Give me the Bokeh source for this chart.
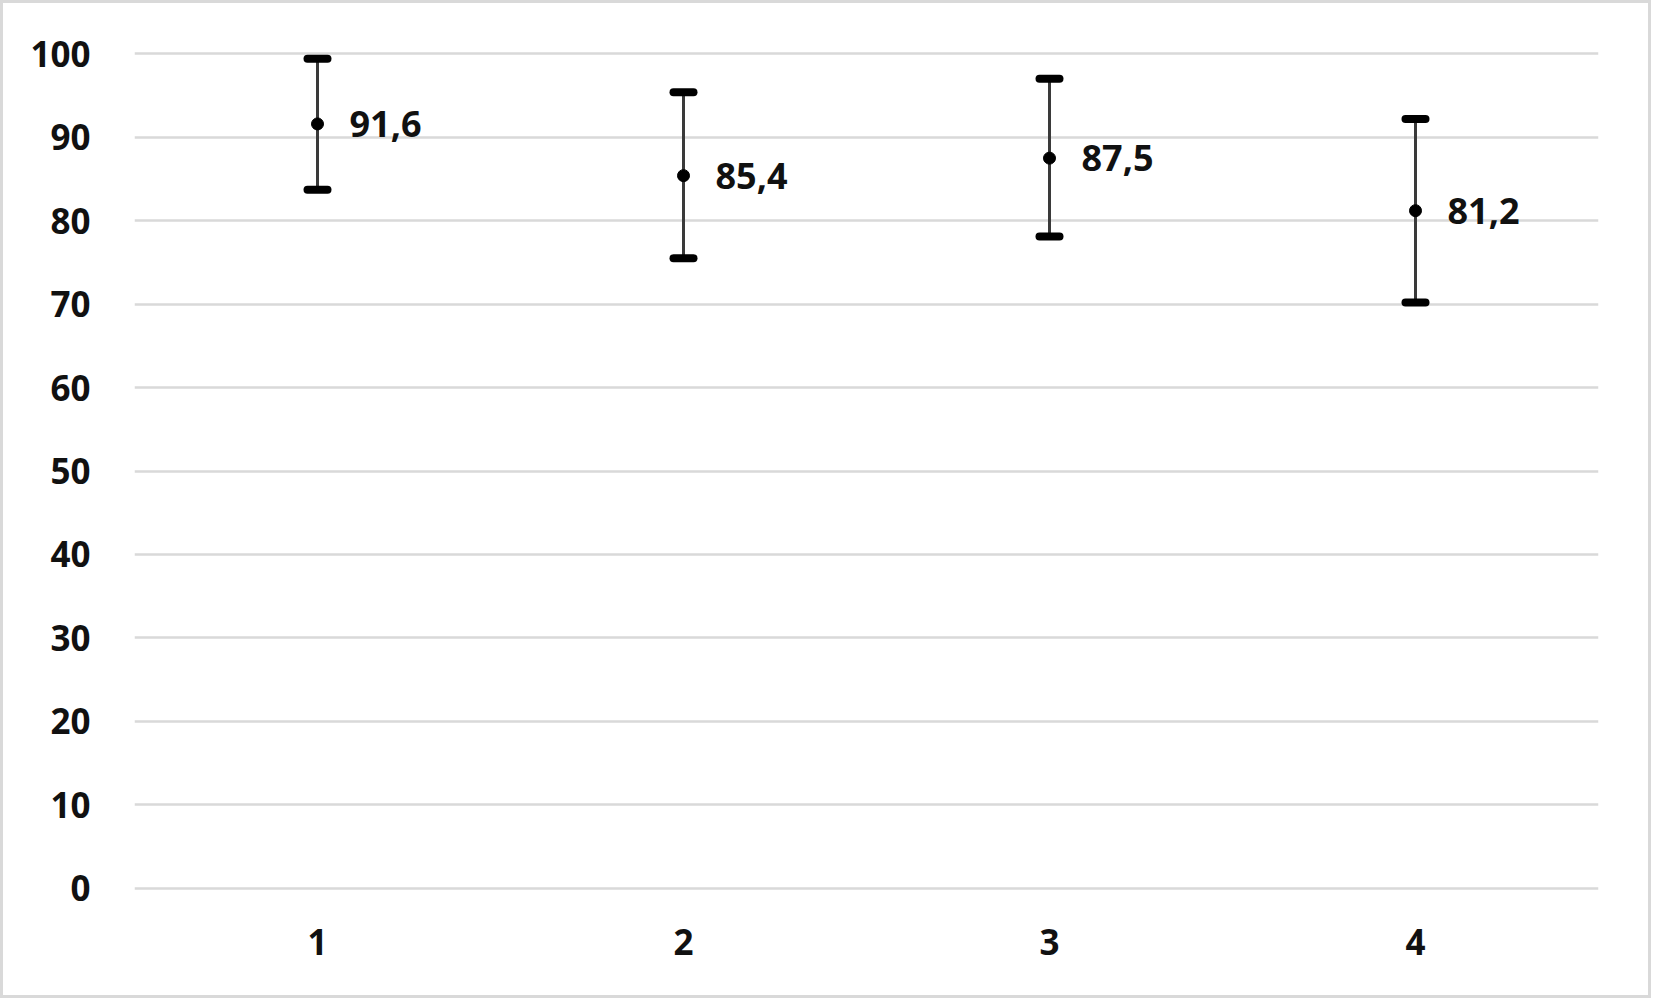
from bokeh.plotting import figure
from bokeh.models import ColumnDataSource, FactorRange, Range1d, FixedTicker, Whisker, TeeHead
from bokeh.core.properties import value
from bokeh.embed import file_html
from bokeh.resources import INLINE

categories = ["1", "2", "3", "4"]
means = [91.6, 85.4, 87.5, 81.2]
err_up = [7.8, 10.0, 9.5, 11.0]
err_down = [7.9, 9.9, 9.4, 11.0]
y_ticks = [0, 10, 20, 30, 40, 50, 60, 70, 80, 90, 100]

upper = [m + e for m, e in zip(means, err_up)]
lower = [m - e for m, e in zip(means, err_down)]
labels = [f"{m:.1f}".replace(".", ",") for m in means]

src = ColumnDataSource(dict(x=categories, y=means, upper=upper, lower=lower, label=labels))

FONT = "Open Sans"

p = figure(
    x_range=FactorRange(*categories, range_padding=0),
    y_range=Range1d(-0.4, 100.4),
    width=1651, height=998,
    output_backend="svg", toolbar_location=None,
    min_border_left=131, min_border_right=56, min_border_top=47, min_border_bottom=110,
)
p.styles = {"border": "3px solid #d9d9d9"}
p.outline_line_color = None
p.background_fill_color = "white"
p.border_fill_color = "white"

p.xgrid.grid_line_color = None
p.ygrid.grid_line_color = "#d9d9d9"
p.ygrid.grid_line_width = 2.5
p.yaxis.ticker = FixedTicker(ticks=y_ticks)

for ax in (p.xaxis, p.yaxis):
    ax.axis_line_color = None
    ax.major_tick_line_color = None
    ax.minor_tick_line_color = None
    ax.major_label_text_font = FONT
    ax.major_label_text_font_style = "bold"
    ax.major_label_text_font_size = "35px"
    ax.major_label_text_color = "#111111"
p.yaxis.major_label_standoff = 38
p.xaxis.major_label_standoff = 31

wh = Whisker(
    base="x", upper="upper", lower="lower", source=src,
    line_color="#3a3a3a", line_width=3,
    upper_head=TeeHead(size=20, line_width=8, line_color="black", line_cap="round"),
    lower_head=TeeHead(size=20, line_width=8, line_color="black", line_cap="round"),
)
p.add_layout(wh)

p.scatter("x", "y", source=src, size=12, color="black")

p.text("x", "y", text="label", source=src, x_offset=32, text_baseline="middle",
       text_align="left", text_font=value(FONT), text_font_style="bold",
       text_font_size="36px", text_color="#111111")

open("out.html", "w").write(file_html(p, INLINE))
